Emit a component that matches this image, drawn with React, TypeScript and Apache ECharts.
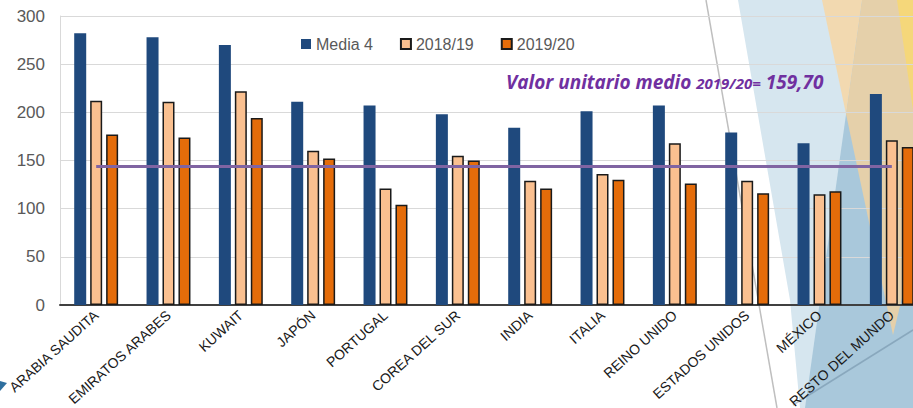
import React, { useEffect, useRef } from 'react';
import * as echarts from 'echarts';

const categories = [
  'ARABIA SAUDITA',
  'EMIRATOS ARABES',
  'KUWAIT',
  'JAPÓN',
  'PORTUGAL',
  'COREA DEL SUR',
  'INDIA',
  'ITALIA',
  'REINO UNIDO',
  'ESTADOS UNIDOS',
  'MÉXICO',
  'RESTO DEL MUNDO',
];
const seriesNames = ['Media 4', '2018/19', '2019/20'];
const media4 = [282, 278, 270, 211, 207, 198, 184, 201, 207, 179, 168, 219];
const values1819 = [212, 211, 222, 160, 121, 155, 129, 136, 168, 129, 115, 171];
const values1920 = [177, 174, 194, 152, 104, 150, 121, 130, 126, 116, 118, 164];
const yMin = 0;
const yMax = 300;
const yInterval = 50;
const averageLineValue = 144;
const annotationMain = 'Valor unitario medio ';
const annotationSmall = '2019/20=';
const annotationValue = ' 159,70';

export default function App() {
  const ref = useRef<HTMLDivElement>(null);

  useEffect(() => {
    if (!ref.current) return;
    const chart = echarts.init(ref.current, null, { renderer: 'svg' });
    const font = 'Liberation Sans, Arial, sans-serif';
    const bg = (points: number[][], fill: string, z = -10) => ({
      type: 'polygon',
      z,
      silent: true,
      shape: { points },
      style: { fill },
    });
    const annoFont = 'Open Sans, sans-serif';
    chart.setOption({
      animation: false,
      textStyle: { fontFamily: font },
      graphic: {
        elements: [
          bg([[738, 0], [913, 0], [913, 408], [800, 408], [790, 300]], '#d6e6ef', -20),
          bg([[862, 0], [913, 0], [913, 408], [805, 408]], '#a9c8db', -19),
          bg([[822, 0], [862, 0], [846, 114]], '#f2d9b0', -18),
          bg([[862, 0], [913, 0], [913, 252], [893, 335], [846, 114]], '#e5d0aa', -18),
          bg([[897, 0], [913, 0], [913, 110]], '#f5d77a', -17),
          {
            type: 'line',
            z: -16,
            silent: true,
            shape: { x1: 793, y1: 405, x2: 913, y2: 330 },
            style: { stroke: 'rgba(90,120,145,0.4)', lineWidth: 1.5 },
          },
          {
            type: 'line',
            z: -15,
            silent: true,
            shape: { x1: 706, y1: 0, x2: 777, y2: 408 },
            style: { stroke: '#bfbfbf', lineWidth: 1.5 },
          },
          bg([[0, 381], [7, 383], [0, 391]], '#2f6f9f', -15),
          {
            type: 'text',
            left: 506,
            top: 72,
            z: 10,
            style: {
              text: `{a|${annotationMain}}{b|${annotationSmall}}{a|${annotationValue}}`,
              rich: {
                a: {
                  fontSize: 19,
                  lineHeight: 23,
                  fontWeight: 'bold',
                  fontStyle: 'italic',
                  fontFamily: annoFont,
                  verticalAlign: 'bottom',
                  fill: '#7030a0',
                  color: '#7030a0',
                },
                b: {
                  fontSize: 15,
                  lineHeight: 23,
                  fontWeight: 'bold',
                  fontStyle: 'italic',
                  fontFamily: annoFont,
                  verticalAlign: 'bottom',
                  padding: [0, 0, 1, 0],
                  fill: '#7030a0',
                  color: '#7030a0',
                },
              },
            },
          },
        ],
      },
      legend: {
        data: seriesNames,
        left: 296,
        top: 31,
        icon: 'rect',
        itemWidth: 10,
        itemHeight: 10,
        itemGap: 27,
        textStyle: { fontSize: 16, color: '#595959', fontFamily: font },
      },
      grid: {
        left: 60,
        width: 868,
        top: 16,
        bottom: 103,
        containLabel: false,
        outerBoundsMode: 'none',
      },
      xAxis: {
        type: 'category',
        data: categories,
        axisLine: { show: true, lineStyle: { color: '#404040', width: 2 } },
        axisTick: { show: false },
        axisLabel: {
          interval: 0,
          rotate: 42,
          margin: 8,
          fontSize: 14,
          color: '#1a1a1a',
          fontFamily: font,
        },
      },
      yAxis: {
        type: 'value',
        min: yMin,
        max: yMax,
        interval: yInterval,
        axisLine: { show: true, lineStyle: { color: '#d9d9d9', width: 1 } },
        axisTick: { show: false },
        splitLine: { lineStyle: { color: '#d9d9d9', width: 1 } },
        axisLabel: { fontSize: 17, color: '#595959', margin: 15, fontFamily: font },
      },
      series: [
        {
          name: seriesNames[0],
          type: 'bar',
          data: media4,
          barWidth: 12,
          barGap: '33%',
          itemStyle: { color: '#1f497d' },
        },
        {
          name: seriesNames[1],
          type: 'bar',
          data: values1819,
          barWidth: 12,
          barGap: '33%',
          itemStyle: { color: '#fac090', borderColor: '#1a1a1a', borderWidth: 1.5 },
          markLine: {
            silent: true,
            symbol: 'none',
            label: { show: false },
            lineStyle: { color: '#8064a2', width: 3, type: 'solid' },
            data: [[{ coord: [0, averageLineValue] }, { coord: [categories.length - 1, averageLineValue] }]],
          },
        },
        {
          name: seriesNames[2],
          type: 'bar',
          data: values1920,
          barWidth: 12,
          barGap: '33%',
          itemStyle: { color: '#e46c0a', borderColor: '#1a1a1a', borderWidth: 1.5 },
        },
      ],
    });
    return () => chart.dispose();
  }, []);

  return (
    <div
      ref={ref}
      style={{ position: 'fixed', left: 0, top: 0, width: 913, height: 408, background: '#fff' }}
    />
  );
}
